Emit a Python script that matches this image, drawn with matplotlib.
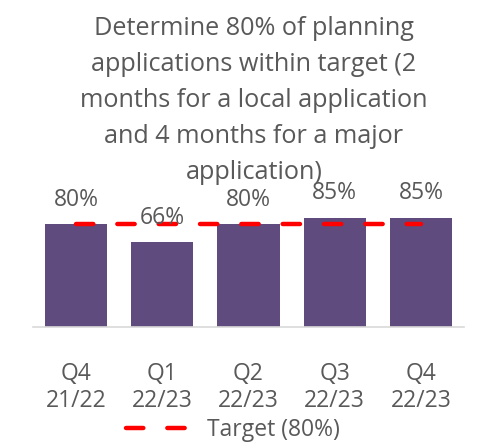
import matplotlib
matplotlib.use("Agg")
import matplotlib.pyplot as plt

plt.rcParams['font.family'] = ['Open Sans', 'DejaVu Sans']

quarters = ['Q4\n21/22', 'Q1\n22/23', 'Q2\n22/23', 'Q3\n22/23', 'Q4\n22/23']
performance = [80, 66, 80, 85, 85]
target = [80, 80, 80, 80, 80]
title = ('Determine 80% of planning\napplications within target (2\n'
         'months for a local application\nand 4 months for a major\napplication)')

text_col = '#595959'
bar_col = '#5F4B7D'

fig = plt.figure(figsize=(4.94, 4.46), dpi=100)
W, H = 494, 446
ax = fig.add_axes([33 / W, (H - 327) / H, 431 / W, 128.5 / H])

x = range(len(quarters))
bars = ax.bar(x, performance, width=0.72, color=bar_col, zorder=2)
ax.plot(x, target, color='#FF0000', lw=3.2, ls=(0, (3.9, 5.4)),
        dash_capstyle='round', zorder=3, label='Target (80%)')

for b, v in zip(bars, performance):
    ax.annotate(f'{v}%', (b.get_x() + b.get_width() / 2, v),
                xytext=(0, 9), textcoords='offset points',
                ha='center', va='bottom', fontsize=16.5, color=text_col)

ax.set_xlim(-0.5, len(quarters) - 0.5)
ax.set_ylim(0, 100)
ax.set_yticks([])
ax.set_xticks(list(x))
ax.set_xticklabels(quarters, fontsize=16.5, color=text_col, linespacing=1.16)
ax.tick_params(axis='x', length=0, pad=25)
for s in ['top', 'left', 'right']:
    ax.spines[s].set_visible(False)
ax.spines['bottom'].set_color('#D9D9D9')
ax.spines['bottom'].set_linewidth(1.2)
ax.patch.set_alpha(0)

fig.text(254 / W, 1 - 16 / H, title, ha='center', va='top', fontsize=18.2,
         color=text_col, linespacing=1.58)

fig.legend(loc='center', bbox_to_anchor=(233 / W, 16 / H), frameon=False,
           fontsize=16.5, labelcolor=text_col, handlelength=3.0, handletextpad=0.5)

fig.savefig('out.png', dpi=100)
